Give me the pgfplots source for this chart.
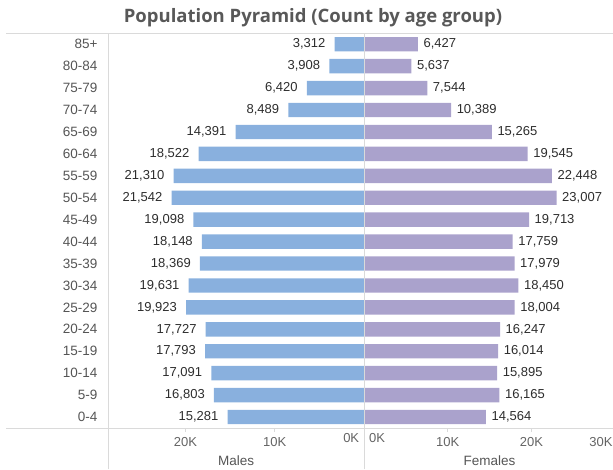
\documentclass[border=0pt]{standalone}
\usepackage{fontspec}
\setmainfont{Liberation Sans}
\newfontfamily\titlefont{Open Sans}
\usepackage{pgfplots}
\pgfplotsset{compat=1.18}
\usepackage{pgfplotstable}

\definecolor{male}{RGB}{137,176,222}
\definecolor{female}{RGB}{170,162,204}
\definecolor{sep}{RGB}{218,218,218}
\definecolor{titlegray}{RGB}{88,88,88}
\definecolor{labgray}{RGB}{85,85,85}
\definecolor{tickgray}{RGB}{100,100,100}
\definecolor{valgray}{RGB}{45,45,45}

\pgfplotstableread{
idx age M F
0 0-4 15281 14564
1 5-9 16803 16165
2 10-14 17091 15895
3 15-19 17793 16014
4 20-24 17727 16247
5 25-29 19923 18004
6 30-34 19631 18450
7 35-39 18369 17979
8 40-44 18148 17759
9 45-49 19098 19713
10 50-54 21542 23007
11 55-59 21310 22448
12 60-64 18522 19545
13 65-69 14391 15265
14 70-74 8489 10389
15 75-79 6420 7544
16 80-84 3908 5637
17 85+ 3312 6427
}\pyr

\pgfplotsset{
  pyr/.style={
    scale only axis, height=394.7pt,
    xbar, bar width=14.4pt,
    ymin=-0.5, ymax=17.5,
    axis line style={draw=none},
    xtick pos=bottom, tick align=outside,
    major tick length=4pt,
    xtick style={color=sep, line width=0.8pt},
    ytick style={draw=none},
    x tick label style={font=\fontsize{13}{14}\selectfont, color=tickgray, yshift=-2pt},
    xlabel style={font=\fontsize{13.5}{15}\selectfont, color=labgray},
    scaled x ticks=false,
  },
}

\begin{document}
\begin{tikzpicture}
\useasboundingbox (0,0) rectangle (613pt,469pt);

% Male side
\begin{axis}[pyr,
  at={(108.3pt,41pt)}, anchor=south west,
  width=255.9pt,
  xmin=0, xmax=28620, x dir=reverse,
  xtick={10000,20000}, xticklabels={10K,20K},
  extra x ticks={0}, extra x tick labels={0K},
  extra x tick style={major tick length=0pt, tick label style={anchor=north east, xshift=-1.5pt}},
  ytick={0,...,17},
  yticklabels from table={\pyr}{age},
  y tick label style={anchor=east, inner sep=0pt, xshift=-6.6pt, font=\fontsize{13.5}{15}\selectfont, color=labgray},
  xlabel={Males},
  xlabel style={at={(axis description cs:0.5,0)}, anchor=base, yshift=-37.5pt},
  nodes near coords={\pgfmathprintnumber[fixed,precision=0,1000 sep={,},assume math mode=true]{\pgfplotspointmeta}},
  every node near coord/.style={anchor=east, inner sep=0pt, xshift=-9pt, font=\fontsize{13}{15}\selectfont, color=valgray},
]
\addplot[draw=none, fill=male, point meta=x] table[x=M, y=idx] {\pyr};
\end{axis}

% Female side
\begin{axis}[pyr,
  at={(364.2pt,41pt)}, anchor=south west,
  width=250.8pt,
  xmin=0, xmax=30000,
  xtick={10000,20000,30000}, xticklabels={10K,20K,\hspace*{-28pt}30K},
  extra x ticks={0}, extra x tick labels={0K},
  extra x tick style={major tick length=0pt, tick label style={anchor=north west, xshift=1.5pt}},
  ytick=\empty,
  xlabel={Females},
  xlabel style={at={(axis description cs:0.5,0)}, anchor=base, yshift=-37.5pt},
  nodes near coords={\pgfmathprintnumber[fixed,precision=0,1000 sep={,},assume math mode=true]{\pgfplotspointmeta}},
  every node near coord/.style={anchor=west, inner sep=0pt, xshift=5.5pt, font=\fontsize{13}{15}\selectfont, color=valgray},
]
\addplot[draw=none, fill=female, point meta=x] table[x=F, y=idx] {\pyr};
\end{axis}

% separators
\draw[sep, line width=0.8pt] (6pt,435.7pt) -- (613pt,435.7pt);
\draw[sep, line width=0.8pt] (6pt,41pt) -- (613pt,41pt);
\draw[sep, line width=0.8pt] (108.3pt,0pt) -- (108.3pt,435.7pt);
\draw[sep, line width=0.8pt] (364.2pt,0pt) -- (364.2pt,435.7pt);

% title
\node[anchor=base, inner sep=0pt, text=titlegray, font=\titlefont\bfseries\fontsize{18.5}{20}\selectfont] at (313pt,446.3pt) {Population Pyramid (Count by age group)};
\end{tikzpicture}
\end{document}
